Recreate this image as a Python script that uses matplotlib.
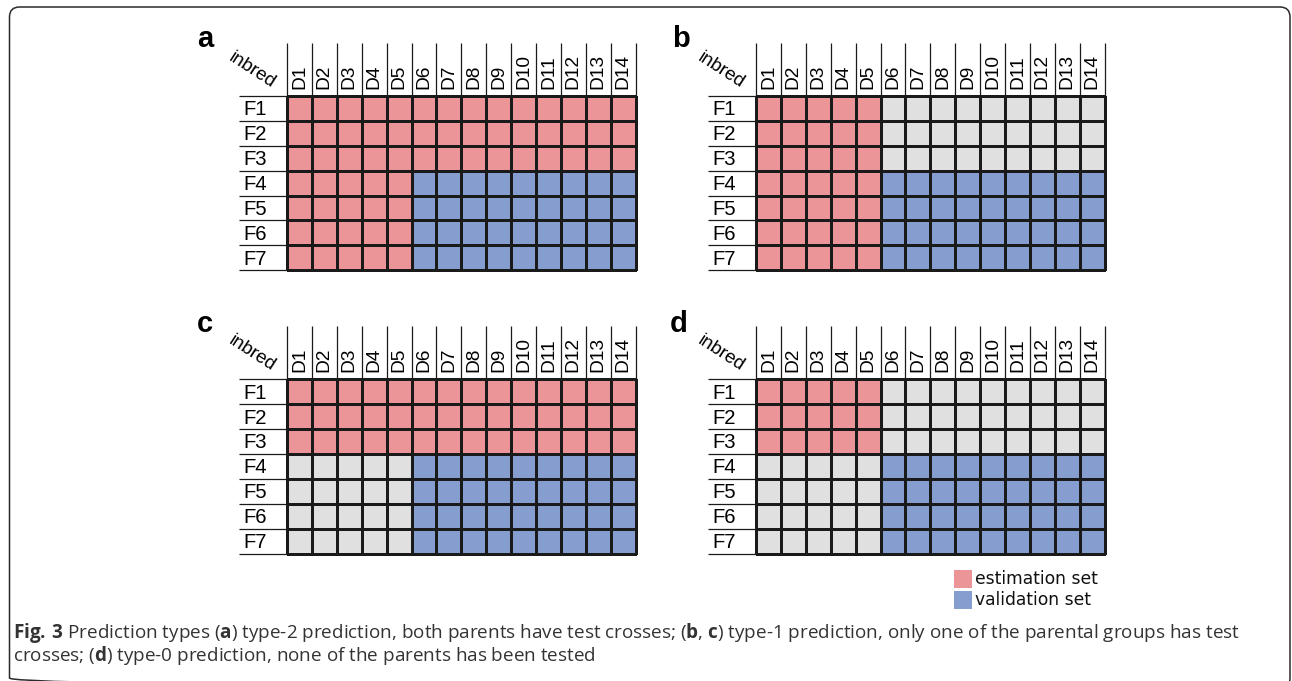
import numpy as np
import matplotlib
matplotlib.use("Agg")
import matplotlib.pyplot as plt
from matplotlib.colors import ListedColormap
from matplotlib.patches import FancyBboxPatch, Rectangle

# ---- data -------------------------------------------------------------
columns = ["D1", "D2", "D3", "D4", "D5", "D6", "D7",
           "D8", "D9", "D10", "D11", "D12", "D13", "D14"]
rows = ["F1", "F2", "F3", "F4", "F5", "F6", "F7"]

# E = estimation set, V = validation set, N = not used
panel_a = ["EEEEEEEEEEEEEE",
           "EEEEEEEEEEEEEE",
           "EEEEEEEEEEEEEE",
           "EEEEEVVVVVVVVV",
           "EEEEEVVVVVVVVV",
           "EEEEEVVVVVVVVV",
           "EEEEEVVVVVVVVV"]
panel_b = ["EEEEENNNNNNNNN",
           "EEEEENNNNNNNNN",
           "EEEEENNNNNNNNN",
           "EEEEEVVVVVVVVV",
           "EEEEEVVVVVVVVV",
           "EEEEEVVVVVVVVV",
           "EEEEEVVVVVVVVV"]
panel_c = ["EEEEEEEEEEEEEE",
           "EEEEEEEEEEEEEE",
           "EEEEEEEEEEEEEE",
           "NNNNNVVVVVVVVV",
           "NNNNNVVVVVVVVV",
           "NNNNNVVVVVVVVV",
           "NNNNNVVVVVVVVV"]
panel_d = ["EEEEENNNNNNNNN",
           "EEEEENNNNNNNNN",
           "EEEEENNNNNNNNN",
           "NNNNNVVVVVVVVV",
           "NNNNNVVVVVVVVV",
           "NNNNNVVVVVVVVV",
           "NNNNNVVVVVVVVV"]
panel_letters = ["a", "b", "c", "d"]
legend_labels = ["estimation set", "validation set"]

# ---- style ------------------------------------------------------------
PINK = "#ec9598"
BLUE = "#869ecf"
GRAY = "#e0e0e0"
LINE = "#1a1a1a"
code_index = {"E": 0, "V": 1, "N": 2}
cmap = ListedColormap([PINK, BLUE, GRAY])

plt.rcParams["mathtext.fontset"] = "custom"
plt.rcParams["mathtext.rm"] = "Open Sans"
plt.rcParams["mathtext.bf"] = "Open Sans:bold"

W, H = 1292, 681
CELL = 24.9
HEAD = 53.3 / CELL     # height of the column-label strip, in cells
SIDE = 48.0 / CELL     # width of the row-label strip, in cells

fig = plt.figure(figsize=(W / 100, H / 100), dpi=100)
fig.patch.set_facecolor("white")

# full-figure overlay in pixel units (origin top-left)
ov = fig.add_axes([0, 0, 1, 1])
ov.set_xlim(0, W)
ov.set_ylim(H, 0)
ov.axis("off")

# rounded frame (bottom edge runs off the canvas)
ov.add_patch(FancyBboxPatch((9.5, 7), 1280.5, 681,
                            boxstyle="round,pad=0,rounding_size=10",
                            facecolor="none", edgecolor="#2b2b2b", lw=1.1))

panels = [panel_a, panel_b, panel_c, panel_d]
origins = [(287, 96), (756, 96), (287, 379.5), (756, 379.5)]
letter_pos = [(197, 47), (672, 47), (197, 332), (670, 332)]

for layout, (x0, y0), letter, (lx, ly) in zip(panels, origins, panel_letters, letter_pos):
    ncol, nrow = len(columns), len(rows)
    ax = fig.add_axes([x0 / W, 1 - (y0 + nrow * CELL) / H,
                       ncol * CELL / W, nrow * CELL / H])
    codes = np.array([[code_index[c] for c in r] for r in layout])
    mesh = ax.pcolormesh(np.arange(ncol + 1), np.arange(nrow + 1), codes,
                         cmap=cmap, vmin=-0.5, vmax=2.5,
                         edgecolor=LINE, linewidth=0.9)
    mesh.set_clip_on(False)
    ax.set_xlim(0, ncol)
    ax.set_ylim(nrow, 0)
    ax.axis("off")

    ax.vlines(np.arange(ncol + 1), -HEAD, 0, color=LINE, lw=0.9, clip_on=False)
    ax.hlines(np.arange(nrow + 1), -SIDE, 0, color=LINE, lw=0.9, clip_on=False)

    for j, name in enumerate(columns):
        ax.text(j + 0.5, -0.3, name, rotation=90, ha="center", va="bottom",
                fontsize=13.8, family="Liberation Sans", color="black")
    for i, name in enumerate(rows):
        ax.text(-SIDE + 0.16, i + 0.55, name, ha="left", va="center",
                fontsize=14.6, family="Liberation Sans", color="black")
    ax.text(-1.41, -1.04, "inbred", rotation=-33, ha="center", va="center",
            rotation_mode="anchor", fontsize=13.5, family="Liberation Sans")

    ov.text(lx, ly, letter, ha="left", va="baseline", fontsize=21,
            fontweight="bold", family="Liberation Sans")

# legend
for k, (lab, col) in enumerate(zip(legend_labels, [PINK, BLUE])):
    top = 570 + k * 21
    ov.add_patch(Rectangle((954, top), 18, 18, facecolor=col, edgecolor="none"))
    ov.text(975, top + 9, lab, ha="left", va="center", fontsize=12.3,
            family="DejaVu Sans", color="#111111")

# caption
line1 = (r"$\mathbf{Fig.\,3}$ Prediction types ($\mathbf{a}$) type-2 prediction, "
         r"both parents have test crosses; ($\mathbf{b}$, $\mathbf{c}$) type-1 prediction, "
         r"only one of the parental groups has test")
line2 = (r"crosses; ($\mathbf{d}$) type-0 prediction, none of the parents "
         r"has been tested")
ov.text(13, 638, line1, ha="left", va="baseline", fontsize=13.55,
        family="Open Sans", color="#333333")
ov.text(13, 661, line2, ha="left", va="baseline", fontsize=13.55,
        family="Open Sans", color="#333333")

fig.savefig("out.png", dpi=100, facecolor="white")
